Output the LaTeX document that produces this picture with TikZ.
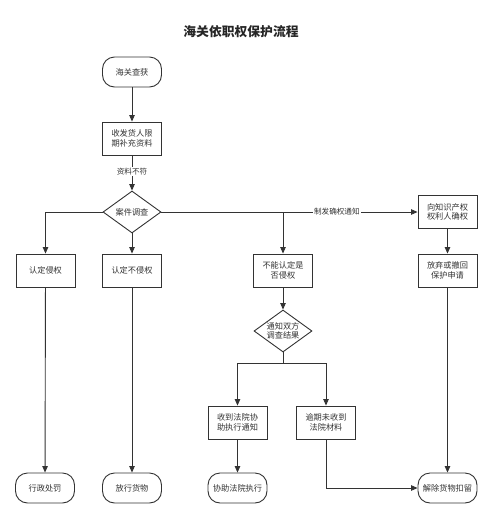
\documentclass[tikz,border=0pt]{standalone}
\usepackage{fontspec}
\setmainfont{Noto Sans CJK SC}
\usetikzlibrary{shapes.geometric,arrows.meta}
\definecolor{lc}{HTML}{333333}
\definecolor{tc}{HTML}{333333}
\begin{document}
\begin{tikzpicture}[x=1pt,y=-1pt,
  line/.style={draw=lc, line width=0.9pt},
  arr/.style={line, -{Triangle[length=6.5pt,width=5.5pt]}},
  box/.style={draw=lc, line width=0.9pt, fill=white, minimum width=59pt, minimum height=33pt, text=tc, font=\fontsize{8.2}{9.6}\selectfont, align=center, inner sep=1pt},
  term/.style={box, minimum height=30pt, rounded corners=12pt},
  dia/.style={diamond, draw=lc, line width=0.9pt, fill=white, minimum width=58pt, minimum height=42pt, inner sep=0pt, label={[text=tc, font=\fontsize{8.2}{9.6}\selectfont, align=center]center:#1}},
  lab/.style={fill=white, text=tc, font=\fontsize{7.6}{9}\selectfont, inner sep=1pt}
]
\useasboundingbox (0,0) rectangle (493,520);
\node[font=\fontsize{12.8}{14}\selectfont\bfseries, text=black!85] (title) at (241,32) {海关依职权保护流程};

\node[term] (s1) at (132,72) {海关查获};
\node[box] (b1) at (132,138.5) {收发货人限\\期补充资料};
\node[dia={案件调查}] (d1) at (132,212) {};
\node[box] (l1) at (45.5,270.5) {认定侵权};
\node[box] (l2) at (132,270.5) {认定不侵权};
\node[box] (m1) at (283,270.5) {不能认定是\\否侵权};
\node[box] (r1) at (447.5,212) {向知识产权\\权利人确权};
\node[box] (r2) at (447.5,270.5) {放弃或撤回\\保护申请};
\node[dia={通知双方\\调查结果}] (d2) at (283,331) {};
\node[box] (c1) at (237.5,422.5) {收到法院协\\助执行通知};
\node[box] (c2) at (326,422.5) {逾期未收到\\法院材料};
\node[term] (t1) at (45,488) {行政处罚};
\node[term] (t2) at (132,488) {放行货物};
\node[term] (t3) at (237.5,488) {协助法院执行};
\node[term] (t4) at (447.5,488) {解除货物扣留};

\coordinate (j) at (283,363);

\draw[arr] (s1) -- (b1);
\draw[arr] (b1) -- node[lab, pos=0.45] {资料不符} (d1);
\draw[arr] (d1.west) -| (l1.north);
\draw[arr] (d1) -- (l2);
\draw[arr] (d1.east) -- node[lab, pos=0.685] {制发确权通知} (r1.west);
\draw[arr] (m1.north |- d1.east) -- (m1.north);
\draw[arr] (r1) -- (r2);
\draw[arr] (m1) -- (d2);
\draw[line] (d2.south) -- (j);
\draw[arr] (j) -| (c1.north);
\draw[arr] (j) -| (c2.north);
\draw[arr] (l1) -- (t1);
\draw[arr] (l2) -- (t2);
\draw[arr] (c1) -- (t3);
\draw[arr] (c2.south) |- (t4.west);
\draw[arr] (r2) -- (t4);
\end{tikzpicture}
\end{document}
